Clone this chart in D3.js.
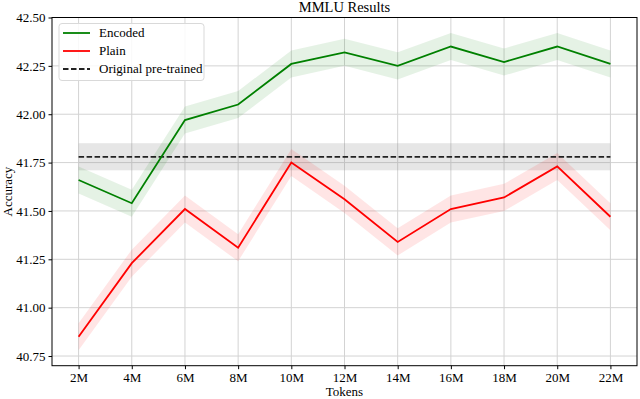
<!DOCTYPE html>
<html><head><meta charset="utf-8">
<script src="https://cdn.jsdelivr.net/npm/d3@7"></script>
<style>body{margin:0;background:#fff}svg{display:block}svg text{font-family:"Liberation Serif","Times New Roman",serif !important;fill:#000}</style>
</head><body><svg id="c" width="640" height="399"></svg>
<script>
const categories = ["2M","4M","6M","8M","10M","12M","14M","16M","18M","20M","22M"];
const encoded = [41.66,41.54,41.97,42.05,42.26,42.32,42.25,42.35,42.27,42.35,42.26];
const plain   = [40.85,41.23,41.51,41.31,41.75,41.56,41.34,41.51,41.57,41.73,41.47];
const original = 41.78;
const bandHalf = 0.07;
const origHalf = 0.07;
const yTicks = [40.75,41.00,41.25,41.50,41.75,42.00,42.25,42.50];

const svg = d3.select("#c");
const m = {l:52, r:637, t:17.5, b:365.7};
const x = d3.scalePoint().domain(categories).range([m.l, m.r]).padding(0.5);
const y = d3.scaleLinear().domain([40.70, 42.50]).range([m.b, m.t]);

const g = svg.append("g");
g.selectAll(".gx").data(categories).enter().append("line")
  .attr("x1", d=>x(d)).attr("x2", d=>x(d)).attr("y1", m.t).attr("y2", m.b)
  .attr("stroke","#d3d3d3").attr("stroke-width",1);
g.selectAll(".gy").data(yTicks).enter().append("line")
  .attr("x1", m.l).attr("x2", m.r).attr("y1", d=>y(d)).attr("y2", d=>y(d))
  .attr("stroke","#d3d3d3").attr("stroke-width",1);

svg.append("rect").attr("x", x(categories[0])).attr("width", x(categories[categories.length-1]) - x(categories[0]))
  .attr("y", y(original+origHalf)).attr("height", y(original-origHalf)-y(original+origHalf))
  .attr("fill","#808080").attr("fill-opacity",0.2);

const area = d3.area().x((d,i)=>x(categories[i])).y0(d=>y(d-bandHalf)).y1(d=>y(d+bandHalf));
const line = d3.line().x((d,i)=>x(categories[i])).y(d=>y(d));

svg.append("path").datum(encoded).attr("d", area).attr("fill","green").attr("fill-opacity",0.1);
svg.append("path").datum(plain).attr("d", area).attr("fill","red").attr("fill-opacity",0.1);

svg.append("line").attr("x1", x(categories[0])).attr("x2", x(categories[categories.length-1]))
  .attr("y1", y(original)).attr("y2", y(original))
  .attr("stroke","#222").attr("stroke-width",1.7).attr("stroke-dasharray","5.5,2.5");
svg.append("path").datum(encoded).attr("d", line).attr("fill","none").attr("stroke","#008000").attr("stroke-width",1.8);
svg.append("path").datum(plain).attr("d", line).attr("fill","none").attr("stroke","#ff0000").attr("stroke-width",1.8);

svg.append("rect").attr("x", m.l).attr("y", m.t).attr("width", m.r-m.l).attr("height", m.b-m.t)
  .attr("fill","none").attr("stroke","#000").attr("stroke-width",1);

const xa = svg.append("g").attr("transform",`translate(0,${m.b})`).call(d3.axisBottom(x).tickSizeOuter(0).tickSize(3.5).tickPadding(4));
const ya = svg.append("g").attr("transform",`translate(${m.l},0)`).call(d3.axisLeft(y).tickValues(yTicks).tickFormat(d3.format(".2f")).tickSizeOuter(0).tickSize(3.5).tickPadding(3));
[xa,ya].forEach(a=>{a.attr("font-family",null).attr("font-size",null); a.select(".domain").remove(); a.selectAll("text").style("font-size","13px").attr("fill","#000"); a.selectAll("line").attr("stroke","#000");});

svg.append("text").attr("x",(m.l+m.r)/2).attr("y",12).attr("text-anchor","middle").style("font-size","14.5px").text("MMLU Results");
svg.append("text").attr("x",(m.l+m.r)/2).attr("y",396).attr("text-anchor","middle").style("font-size","13px").text("Tokens");
svg.append("text").attr("transform",`translate(12,${(m.t+m.b)/2}) rotate(-90)`).attr("text-anchor","middle").style("font-size","13px").text("Accuracy");

const lg = svg.append("g");
lg.append("rect").attr("x",59).attr("y",23.5).attr("width",145).attr("height",57).attr("rx",3)
  .attr("fill","#fff").attr("fill-opacity",0.85).attr("stroke","#d9d9d9").attr("stroke-width",1);
const items = [["Encoded","#008000",null],["Plain","#ff0000",null],["Original pre-trained","#222","5.5,2.5"]];
items.forEach((it,i)=>{
  const yy = 33 + i*18;
  lg.append("line").attr("x1",63).attr("x2",90).attr("y1",yy).attr("y2",yy).attr("stroke",it[1]).attr("stroke-width",1.8).attr("stroke-dasharray",it[2]);
  lg.append("text").attr("x",99).attr("y",yy+4.3).style("font-size","13px").text(it[0]);
});
</script></body></html>
